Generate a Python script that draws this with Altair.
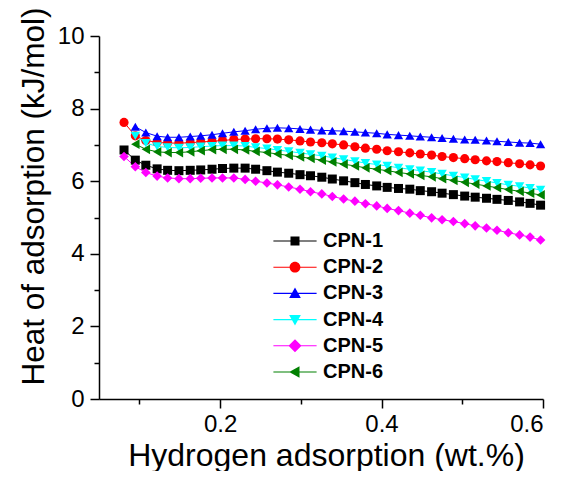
import altair as alt
import pandas as pd

series = ["CPN-1", "CPN-2", "CPN-3", "CPN-4", "CPN-5", "CPN-6"]
colors = ["#000000", "#FF0000", "#0000FF", "#00FFFF", "#FF00FF", "#008000"]
shapes = ["square", "circle", "triangle-up", "triangle-down", "diamond", "triangle-left"]
sizes = [81, 95, 115, 115, 140, 115]

x_vals = [0.081, 0.095, 0.108, 0.122, 0.135, 0.149, 0.163, 0.176, 0.190, 0.203,
          0.217, 0.231, 0.244, 0.258, 0.271, 0.285, 0.299, 0.312, 0.326, 0.339,
          0.353, 0.367, 0.380, 0.394, 0.407, 0.421, 0.435, 0.448, 0.462, 0.475,
          0.489, 0.503, 0.516, 0.530, 0.543, 0.557, 0.571, 0.584, 0.597]

cpn1 = [6.86, 6.58, 6.44, 6.34, 6.30, 6.29, 6.30, 6.31, 6.33, 6.35,
        6.36, 6.36, 6.33, 6.29, 6.25, 6.22, 6.18, 6.15, 6.11, 6.06,
        6.01, 5.96, 5.91, 5.87, 5.83, 5.80, 5.78, 5.74, 5.71, 5.67,
        5.63, 5.59, 5.56, 5.53, 5.50, 5.47, 5.43, 5.39, 5.34]
cpn2 = [7.62, 7.25, 7.12, 7.07, 7.05, 7.05, 7.06, 7.08, 7.10, 7.12,
        7.15, 7.16, 7.17, 7.17, 7.16, 7.14, 7.11, 7.08, 7.06, 7.03,
        7.00, 6.95, 6.91, 6.88, 6.84, 6.81, 6.78, 6.75, 6.72, 6.68,
        6.65, 6.62, 6.59, 6.56, 6.54, 6.51, 6.48, 6.45, 6.42]
cpn3 = [7.50, 7.34, 7.24, 7.21, 7.21, 7.23, 7.25, 7.28, 7.32,
        7.36, 7.39, 7.43, 7.46, 7.47, 7.46, 7.44, 7.42, 7.40, 7.39,
        7.38, 7.36, 7.34, 7.32, 7.29, 7.27, 7.25, 7.23, 7.21, 7.19,
        7.17, 7.15, 7.14, 7.12, 7.10, 7.08, 7.06, 7.05, 7.02]
cpn4 = [7.25, 7.05, 6.96, 6.93, 6.92, 6.93, 6.95, 6.97, 6.98, 6.98,
        6.97, 6.93, 6.90, 6.86, 6.82, 6.78, 6.74, 6.70, 6.65, 6.60,
        6.55, 6.50, 6.46, 6.42, 6.37, 6.33, 6.29, 6.25, 6.20, 6.15,
        6.10, 6.05, 6.00, 5.95, 5.90, 5.86, 5.81, 5.76]
cpn5 = [6.68, 6.40, 6.24, 6.14, 6.09, 6.07, 6.07, 6.08, 6.09, 6.09,
        6.09, 6.05, 6.00, 5.95, 5.90, 5.84, 5.78, 5.71, 5.65, 5.58,
        5.51, 5.45, 5.38, 5.32, 5.25, 5.19, 5.12, 5.06, 4.99, 4.94,
        4.89, 4.83, 4.77, 4.71, 4.65, 4.58, 4.52, 4.46, 4.38]
cpn6 = [7.02, 6.88, 6.81, 6.79, 6.79, 6.81, 6.84, 6.87, 6.88, 6.88,
        6.86, 6.82, 6.79, 6.75, 6.71, 6.67, 6.63, 6.58, 6.53, 6.47,
        6.42, 6.37, 6.33, 6.29, 6.24, 6.20, 6.16, 6.12, 6.07, 6.02,
        5.97, 5.92, 5.87, 5.82, 5.77, 5.72, 5.67, 5.62]

x_major = [0.2, 0.4, 0.6]
x_minor = [0.1, 0.3, 0.5]
y_major = [0, 2, 4, 6, 8, 10]
y_minor = [1, 3, 5, 7, 9]

# legend symbols: a thin filled bar (the line) with the marker on it
BAR = "M-4.8,-0.12H4.8V0.12H-4.8Z"
legend_paths = [
    BAR + "M-1,-1H1V1H-1Z",
    BAR + "M-1.2,0A1.2,1.2,0,1,1,1.2,0A1.2,1.2,0,1,1,-1.2,0Z",
    BAR + "M0,-1.3L1.3,1L-1.3,1Z",
    BAR + "M0,1.3L-1.3,-1L1.3,-1Z",
    BAR + "M0,-1.45L1.45,0L0,1.45L-1.45,0Z",
    BAR + "M-1.3,0L1,-1.3L1,1.3Z",
]

rows = []
for name, vals in zip(series, [cpn1, cpn2, cpn3, cpn4, cpn5, cpn6]):
    xs = x_vals[len(x_vals) - len(vals):]
    for xv, yv in zip(xs, vals):
        rows.append({"series": name, "x": xv, "y": yv})
df = pd.DataFrame(rows)

FONT = "Liberation Sans"
xscale = alt.Scale(domain=[0.05, 0.6], nice=False, zero=False)
yscale = alt.Scale(domain=[0, 10], nice=False)
cscale = alt.Scale(domain=series, range=colors)

x_axis = alt.Axis(values=x_major, format=".1f", orient="bottom", grid=False,
                  tickSize=9, tickWidth=1.5, domainWidth=1.5, domainColor="black",
                  tickColor="black", labelFontSize=24, labelFont=FONT, labelColor="black",
                  labelPadding=4, title="Hydrogen adsorption (wt.%)", titleFont=FONT,
                  titleFontSize=32, titleFontWeight="normal", titleColor="black",
                  titleX=227, titleY=66, titleAnchor="middle", titleAlign="center",
                  titleBaseline="alphabetic")
y_axis = alt.Axis(values=y_major, format="d", orient="left", grid=False,
                  tickSize=9, tickWidth=1.5, domainWidth=1.5, domainColor="black",
                  tickColor="black", labelFontSize=24, labelFont=FONT, labelColor="black",
                  labelPadding=6, title="Heat of adsorption (kJ/mol)", titleFont=FONT,
                  titleFontSize=31.5, titleFontWeight="normal", titleColor="black",
                  titleX=-56, titleY=160, titleAngle=270, titleAlign="center",
                  titleBaseline="alphabetic")
x_axis_minor = alt.Axis(values=x_minor, orient="bottom", grid=False, labels=False,
                        domain=False, tickSize=5, tickWidth=1.5, tickColor="black", title=None)
y_axis_minor = alt.Axis(values=y_minor, orient="left", grid=False, labels=False,
                        domain=False, tickSize=5, tickWidth=1.5, tickColor="black", title=None)

base = alt.Chart(df)

lines = base.mark_line(strokeWidth=1).encode(
    x=alt.X("x:Q", scale=xscale, axis=x_axis),
    y=alt.Y("y:Q", scale=yscale, axis=y_axis),
    color=alt.Color("series:N", scale=cscale, legend=None),
    detail="series:N",
)

points = base.mark_point(filled=True, opacity=1, strokeWidth=0).encode(
    x=alt.X("x:Q", scale=xscale, axis=x_axis_minor),
    y=alt.Y("y:Q", scale=yscale, axis=y_axis_minor),
    color=alt.Color("series:N", scale=cscale, legend=None),
    shape=alt.Shape("series:N", scale=alt.Scale(domain=series, range=shapes), legend=None),
    size=alt.Size("series:N", scale=alt.Scale(domain=series, range=sizes), legend=None),
)

leg = dict(orient="none", legendX=186, legendY=195, title=None, padding=0,
           labelFont=FONT, labelFontSize=20, labelFontWeight="bold", labelColor="black",
           symbolSize=81, symbolStrokeWidth=0, labelOffset=18, rowPadding=6.2,
           labelLimit=200)

legend_layer = base.mark_point(filled=True, opacity=1).transform_filter("false").encode(
    x=alt.X("x:Q", scale=xscale, axis=None),
    y=alt.Y("y:Q", scale=yscale, axis=None),
    color=alt.Color("series:N", scale=alt.Scale(domain=series, range=colors),
                    legend=alt.Legend(**leg)),
    shape=alt.Shape("series:N", scale=alt.Scale(domain=series, range=legend_paths),
                    legend=alt.Legend(**leg)),
)

chart = alt.layer(lines, points, legend_layer).resolve_scale(
    color="independent", shape="independent"
).resolve_axis(
    x="independent", y="independent"
).properties(
    width=444, height=363,
    autosize=alt.AutoSizeParams(type="none"),
    padding={"left": 91, "top": 28, "right": 15, "bottom": 72},
    background="white",
).configure_view(stroke=None)

chart.save("out.html", embed_options={"renderer": "svg", "actions": False})
